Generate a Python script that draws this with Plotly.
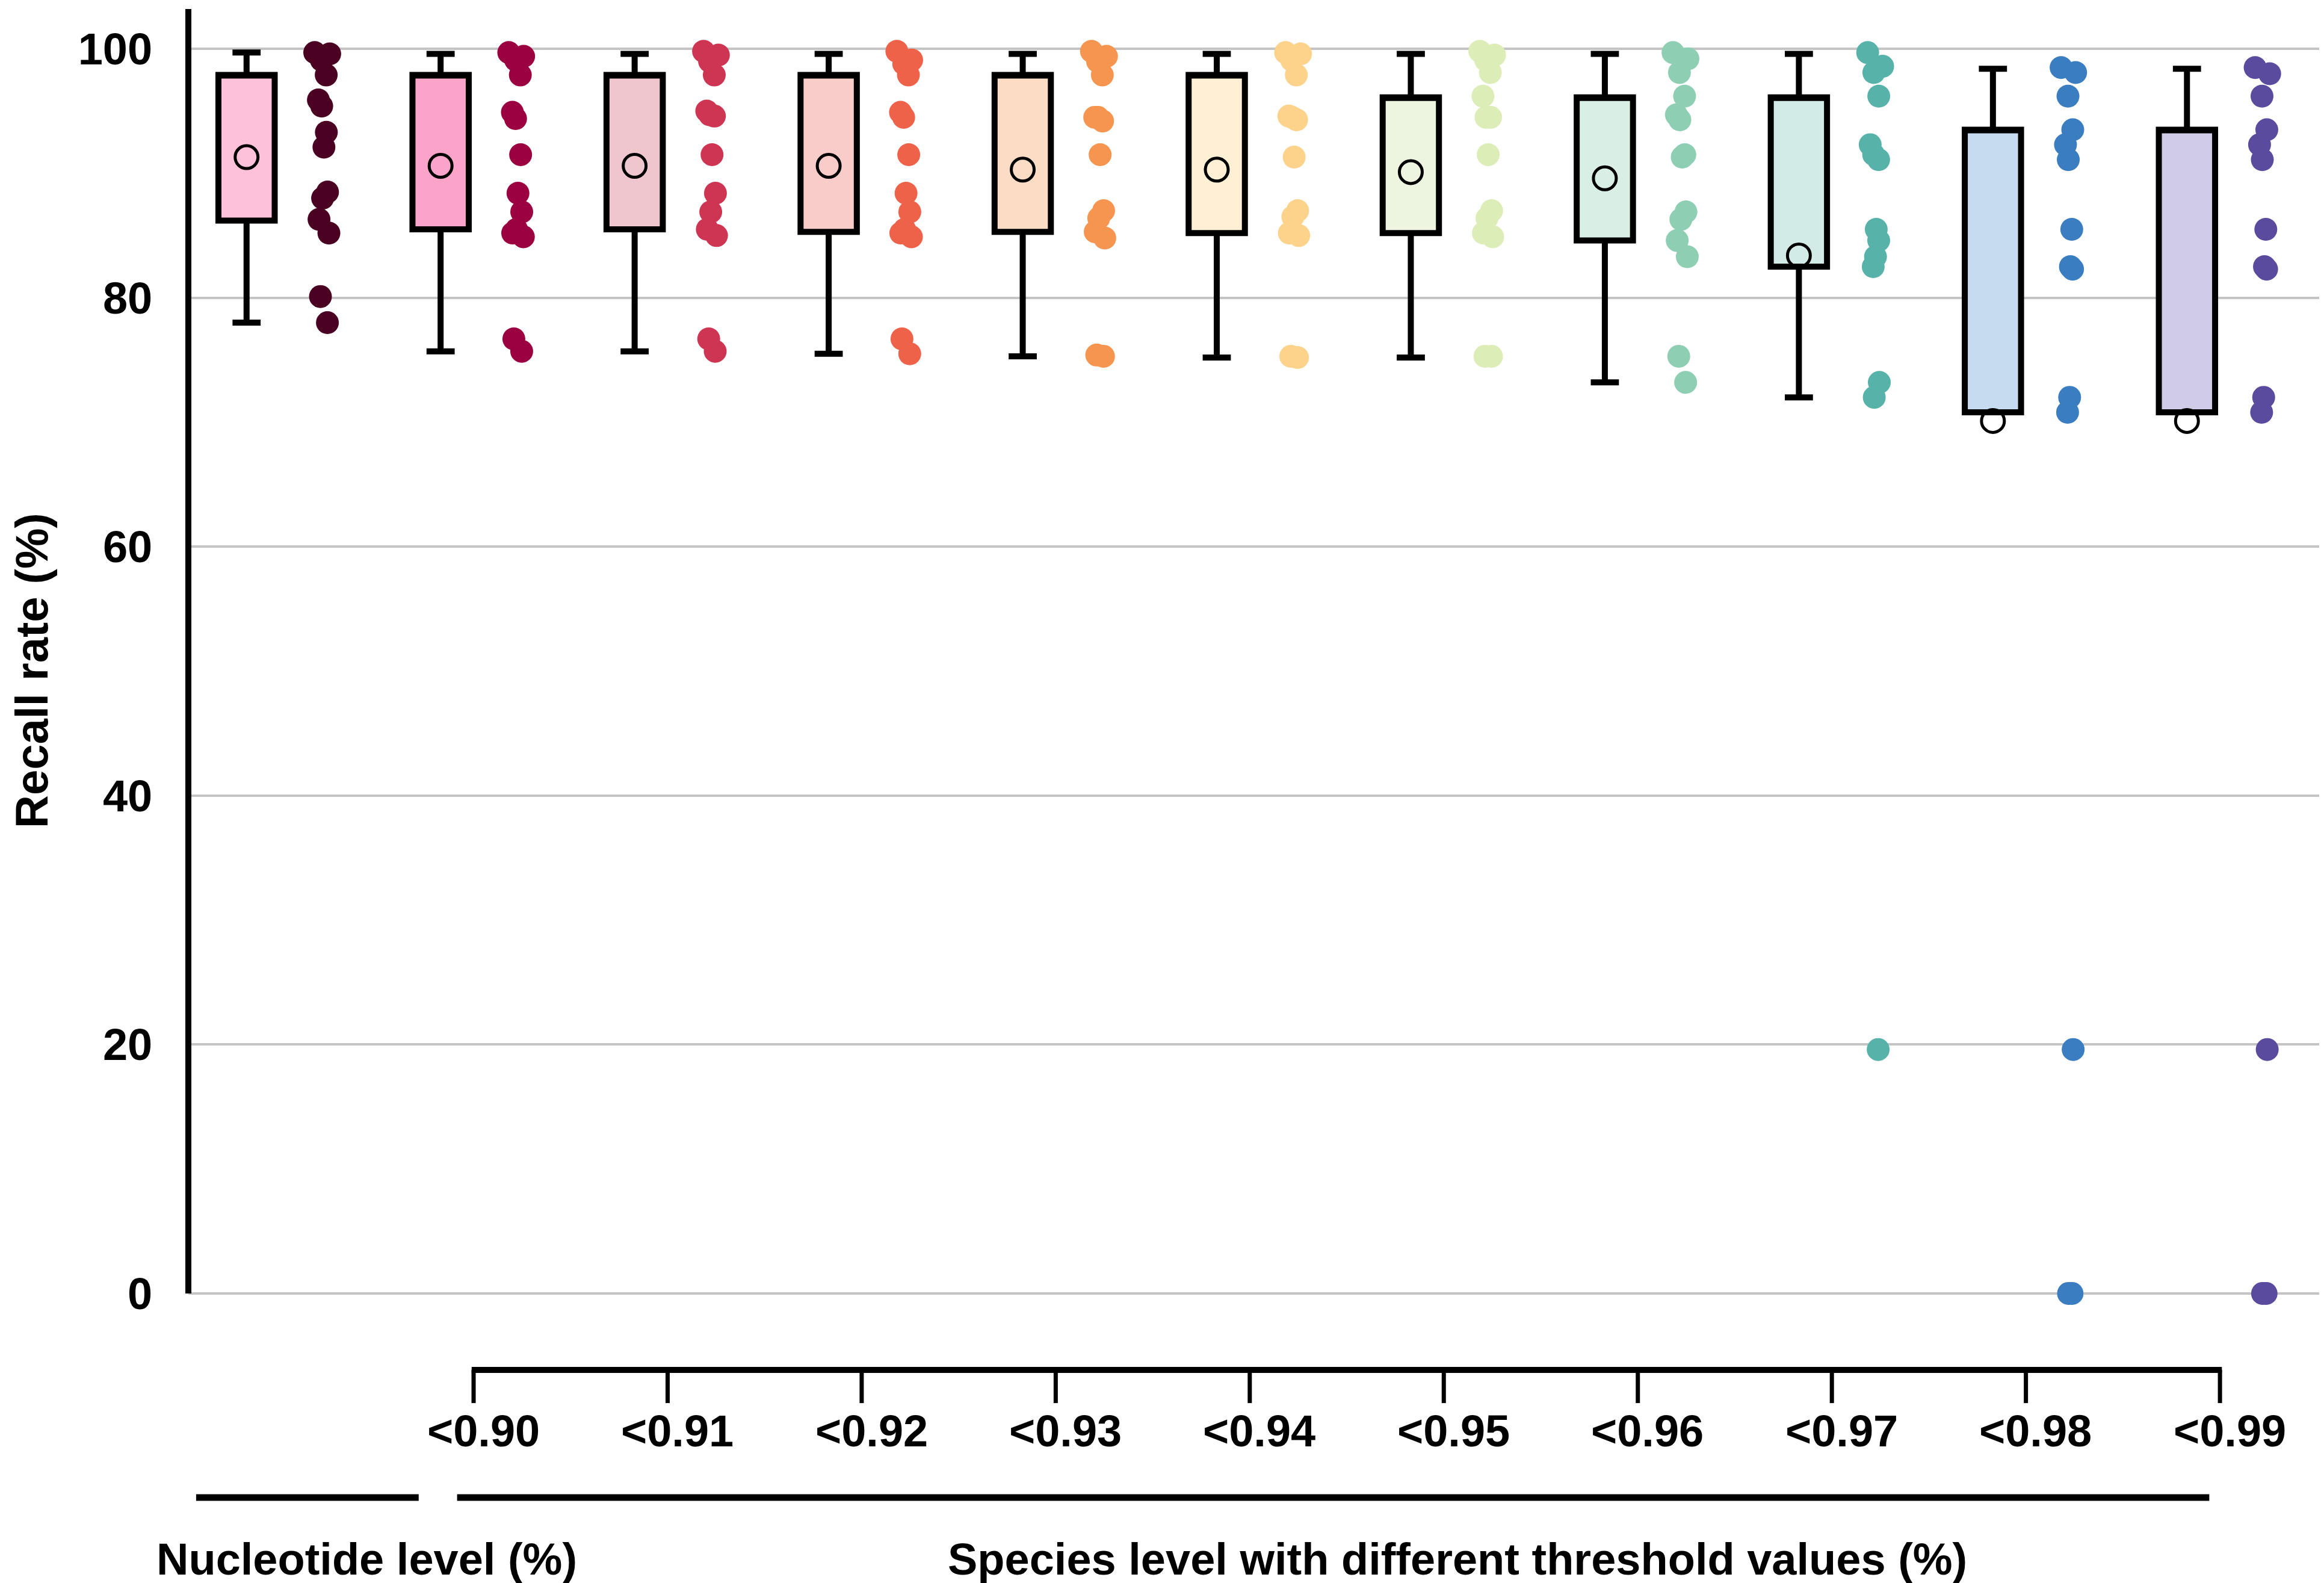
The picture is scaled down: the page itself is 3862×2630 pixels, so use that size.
import plotly.graph_objects as go

# categories (first is the nucleotide level, the rest species thresholds)
groups = ["Nucleotide", "<0.90", "<0.91", "<0.92", "<0.93", "<0.94",
          "<0.95", "<0.96", "<0.97", "<0.98", "<0.99"]
threshold_labels = groups[1:]

# box statistics
whisker_high = [99.7, 99.6, 99.6, 99.6, 99.6, 99.6, 99.6, 99.6, 99.6, 98.4, 98.4]
box_q3 = [97.9, 97.9, 97.9, 97.9, 97.9, 97.9, 96.1, 96.1, 96.1, 93.5, 93.5]
box_q1 = [86.2, 85.5, 85.5, 85.3, 85.3, 85.2, 85.2, 84.6, 82.5, 70.8, 70.8]
whisker_low = [78.0, 75.7, 75.7, 75.5, 75.3, 75.2, 75.2, 73.2, 72.0, 70.8, 70.8]
means = [91.3, 90.6, 90.6, 90.6, 90.3, 90.3, 90.1, 89.6, 83.4, 70.1, 70.1]

# individual recall rates per group
points = [
    [99.7, 99.6, 99.1, 97.9, 95.9, 95.4, 93.3, 92.1, 88.5, 88.0, 86.3, 85.2, 80.1, 78.0],
    [99.7, 99.4, 99.1, 97.9, 94.9, 94.4, 91.5, 88.4, 86.9, 85.5, 85.2, 84.9, 76.7, 75.7],
    [99.8, 99.5, 99.0, 97.9, 95.0, 94.7, 94.6, 91.5, 88.4, 86.9, 85.5, 85.0, 76.7, 75.7],
    [99.8, 99.1, 98.8, 97.9, 94.9, 94.5, 91.5, 88.4, 86.9, 85.5, 85.2, 84.9, 76.7, 75.5],
    [99.8, 99.4, 99.0, 97.9, 94.5, 94.5, 94.2, 91.5, 87.0, 86.4, 85.3, 84.8, 75.4, 75.3],
    [99.7, 99.6, 99.1, 97.9, 94.6, 94.5, 94.3, 91.3, 87.0, 86.5, 85.2, 85.0, 75.3, 75.2],
    [99.8, 99.5, 99.1, 98.1, 96.2, 94.5, 94.5, 91.5, 87.0, 86.4, 85.2, 84.9, 75.3, 75.3],
    [99.7, 99.2, 98.1, 96.2, 94.7, 94.3, 91.5, 91.3, 86.9, 86.3, 84.6, 83.3, 75.3, 73.2],
    [99.7, 98.6, 98.1, 96.2, 92.3, 91.5, 91.1, 85.5, 84.6, 83.3, 82.5, 73.2, 72.0, 19.6],
    [98.5, 98.1, 96.2, 93.5, 92.3, 91.1, 85.5, 82.5, 82.3, 72.0, 70.8, 19.6, 0.0, 0.0],
    [98.5, 98.0, 96.2, 93.5, 92.3, 91.1, 85.5, 82.5, 82.3, 72.0, 70.8, 19.6, 0.0, 0.0],
]

box_colors = ["#FEC1DA", "#FBA4C9", "#EFC5CE", "#F8CCC8", "#FCDCC5", "#FEEFD5",
              "#EDF5E0", "#D9EFE5", "#D2EBE7", "#C6DBEF", "#D0CCE7"]
dot_colors = ["#4A0122", "#9B0041", "#CE3552", "#EE6249", "#F6954F", "#FDD38B",
              "#DCEDB7", "#8ECEB3", "#57B3AA", "#3A7DC0", "#5A4B9E"]

FONT = "Liberation Sans"
BIG = 74

fig = go.Figure()
positions = list(range(1, len(groups) + 1))

for i, name in enumerate(groups):
    k = positions[i]
    # box without a visible median (median placed on Q3 edge)
    fig.add_trace(go.Box(
        x=[k], q1=[box_q1[i]], median=[box_q3[i]], q3=[box_q3[i]],
        lowerfence=[whisker_low[i]], upperfence=[whisker_high[i]],
        width=0.29, whiskerwidth=0.5, boxpoints=False,
        fillcolor=box_colors[i], line=dict(color="black", width=10),
        name=name, showlegend=False,
    ))
    # strip of the raw values beside each box
    fig.add_trace(go.Box(
        x=[k + 0.4] * len(points[i]), y=points[i],
        boxpoints="all", jitter=0.5, pointpos=0, width=0.2,
        fillcolor="rgba(0,0,0,0)", line=dict(width=0),
        marker=dict(color=dot_colors[i], size=38, opacity=1),
        name=name, showlegend=False,
    ))

fig.add_trace(go.Scatter(
    x=positions, y=means, mode="markers",
    marker=dict(symbol="circle-open", size=38, color="black", line=dict(width=5)),
    showlegend=False,
))

shapes = [
    # y axis line (stops at 0)
    dict(type="line", xref="paper", yref="y", x0=0, x1=0, y0=0, y1=103.2,
         line=dict(color="black", width=10)),
    # threshold bracket
    dict(type="line", xref="x", yref="paper", x0=2.16, x1=11.18, y0=-0.0434, y1=-0.0434,
         line=dict(color="black", width=10)),
    # group underlines
    dict(type="line", xref="x", yref="paper", x0=0.74, x1=1.887, y0=-0.1412, y1=-0.1412,
         line=dict(color="black", width=11)),
    dict(type="line", xref="x", yref="paper", x0=2.085, x1=11.115, y0=-0.1412, y1=-0.1412,
         line=dict(color="black", width=11)),
]
annotations = []
for j, label in enumerate(threshold_labels):
    k = positions[j + 1]
    shapes.append(dict(type="line", xref="x", yref="paper", x0=k + 0.17, x1=k + 0.17,
                       y0=-0.0434, y1=-0.0688, line=dict(color="black", width=7)))
    annotations.append(dict(x=k + 0.22, y=-0.0904, xref="x", yref="paper", text=label,
                            showarrow=False, xanchor="center", yanchor="middle",
                            font=dict(family=FONT, size=BIG, color="black", weight="bold")))

annotations += [
    dict(x=1.62, y=-0.1887, xref="x", yref="paper", text="Nucleotide level (%)",
         showarrow=False, xanchor="center", yanchor="middle",
         font=dict(family=FONT, size=BIG, color="black", weight="bold")),
    dict(x=7.24, y=-0.1887, xref="x", yref="paper",
         text="Species level with different threshold values (%)",
         showarrow=False, xanchor="center", yanchor="middle",
         font=dict(family=FONT, size=BIG, color="black", weight="bold")),
    dict(x=-0.0735, y=0.493, xref="paper", yref="paper", text="Recall rate (%)",
         textangle=-90, showarrow=False, xanchor="center", yanchor="middle",
         font=dict(family=FONT, size=76, color="black", weight="bold")),
]

fig.update_layout(
    width=3862, height=2630,
    margin=dict(l=305, r=10, t=7, b=456),
    paper_bgcolor="white", plot_bgcolor="white",
    boxmode="overlay",
    shapes=shapes, annotations=annotations,
    font=dict(family=FONT, color="black"),
)
fig.update_xaxes(range=[0.70, 11.70], showgrid=False, zeroline=False,
                 showticklabels=False, showline=False, ticks="")
fig.update_yaxes(range=[-1.6, 103.2], tickvals=[0, 20, 40, 60, 80, 100],
                 showgrid=True, gridcolor="#C4C4C4", gridwidth=4, zeroline=False,
                 showline=False, ticks="outside", ticklen=44, tickcolor="rgba(0,0,0,0)",
                 tickfont=dict(family=FONT, size=BIG, color="black", weight="bold"))

fig.write_html("out.html")
